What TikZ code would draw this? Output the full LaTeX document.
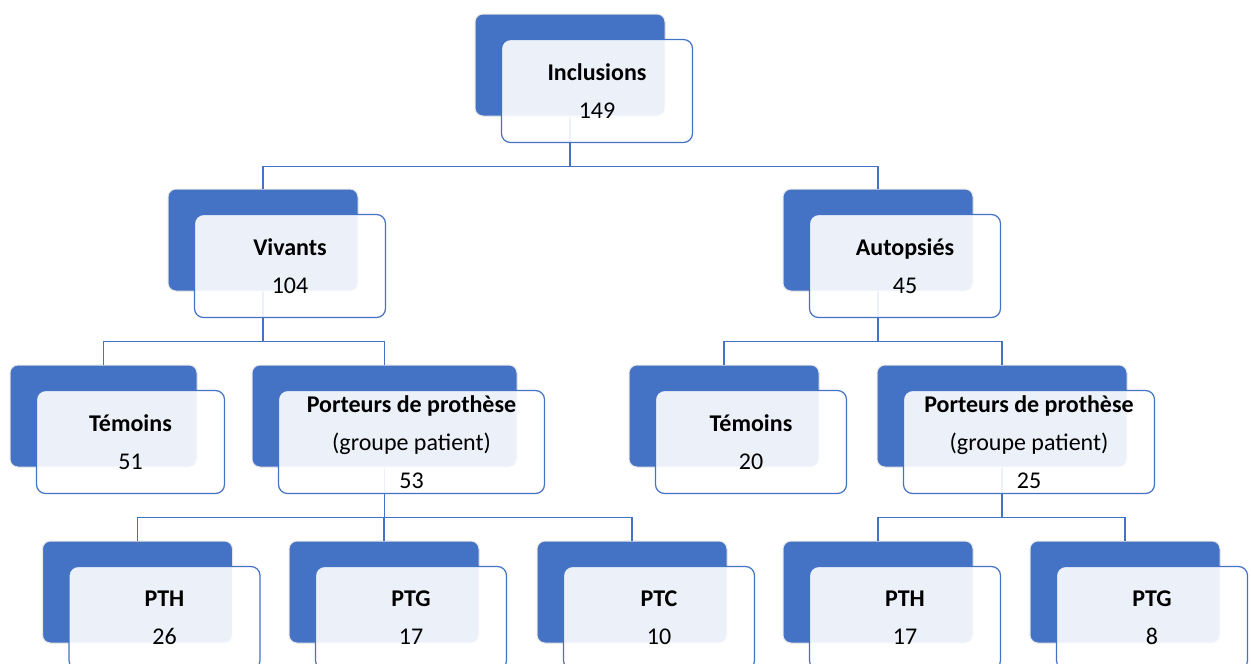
\documentclass[tikz,border=0pt]{standalone}
\usepackage{fontspec}
\setmainfont{Carlito}
\definecolor{boxblue}{HTML}{4472C4}
\tikzstyle{back} = [rectangle,rounded corners=8pt,minimum width=190pt,minimum height=102pt,draw=black!10,line width=1pt,fill=boxblue]
\tikzstyle{front} = [rectangle,rounded corners=9pt,minimum width=191pt,minimum height=103pt,draw=boxblue,line width=1.2pt,fill=white,fill opacity=0.9,text opacity=1,align=center,font={\fontsize{24}{38}\selectfont}]
\tikzstyle{link} = [draw=boxblue,line width=1.2pt]

\begin{document}
\begin{tikzpicture}[x=1pt,y=-1pt]
    \useasboundingbox (0,0) rectangle (1251,664);

    % Back boxes
    \node[back] (inclB) at (570,65) {};
    \node[back] (vivB) at (263,240) {};
    \node[back] (autB) at (878,240) {};
    \node[back,minimum width=187pt] (tem1B) at (103.5,416) {};
    \node[back,minimum width=265pt] (por1B) at (384.5,416) {};
    \node[back] (tem2B) at (724,416) {};
    \node[back,minimum width=250pt] (por2B) at (1002,416) {};
    \node[back] (pth1B) at (137.5,592) {};
    \node[back] (ptg1B) at (384,592) {};
    \node[back] (ptc1B) at (632,592) {};
    \node[back] (pth2B) at (878,592) {};
    \node[back] (ptg2B) at (1125,592) {};

    % Links
    \draw[link] (inclB.south) -- ++(0,50) -| (vivB.north);
    \draw[link] (inclB.south) -- ++(0,50) -| (autB.north);
    \draw[link] (vivB.south) -- ++(0,50) -| (tem1B.north);
    \draw[link] (vivB.south) -- ++(0,50) -| (por1B.north);
    \draw[link] (autB.south) -- ++(0,50) -| (tem2B.north);
    \draw[link] (autB.south) -- ++(0,50) -| (por2B.north);
    \draw[link] (por1B.south) -- ++(0,50) -| (pth1B.north);
    \draw[link] (por1B.south) -- ++(0,50) -| (ptg1B.north);
    \draw[link] (por1B.south) -- ++(0,50) -| (ptc1B.north);
    \draw[link] (por2B.south) -- ++(0,50) -| (pth2B.north);
    \draw[link] (por2B.south) -- ++(0,50) -| (ptg2B.north);

    % Front boxes
    \node[front,xshift=27pt,yshift=-26pt] (incl) at (inclB.center) {\textbf{Inclusions}\\149};
    \node[front,xshift=27pt,yshift=-26pt] (viv) at (vivB.center) {\textbf{Vivants}\\104};
    \node[front,xshift=27pt,yshift=-26pt] (aut) at (autB.center) {\textbf{Autopsiés}\\45};
    \node[front,minimum width=188pt,xshift=27pt,yshift=-26pt] (tem1) at (tem1B.center) {\textbf{Témoins}\\51};
    \node[front,minimum width=266pt,xshift=27pt,yshift=-26pt] (por1) at (por1B.center) {\textbf{Porteurs de prothèse}\\(groupe patient)\\53};
    \node[front,xshift=27pt,yshift=-26pt] (tem2) at (tem2B.center) {\textbf{Témoins}\\20};
    \node[front,minimum width=251pt,xshift=27pt,yshift=-26pt] (por2) at (por2B.center) {\textbf{Porteurs de prothèse}\\(groupe patient)\\25};
    \node[front,xshift=27pt,yshift=-26pt] (pth1) at (pth1B.center) {\textbf{PTH}\\26};
    \node[front,xshift=27pt,yshift=-26pt] (ptg1) at (ptg1B.center) {\textbf{PTG}\\17};
    \node[front,xshift=27pt,yshift=-26pt] (ptc1) at (ptc1B.center) {\textbf{PTC}\\10};
    \node[front,xshift=27pt,yshift=-26pt] (pth2) at (pth2B.center) {\textbf{PTH}\\17};
    \node[front,xshift=27pt,yshift=-26pt] (ptg2) at (ptg2B.center) {\textbf{PTG}\\8};
\end{tikzpicture}
\end{document}
